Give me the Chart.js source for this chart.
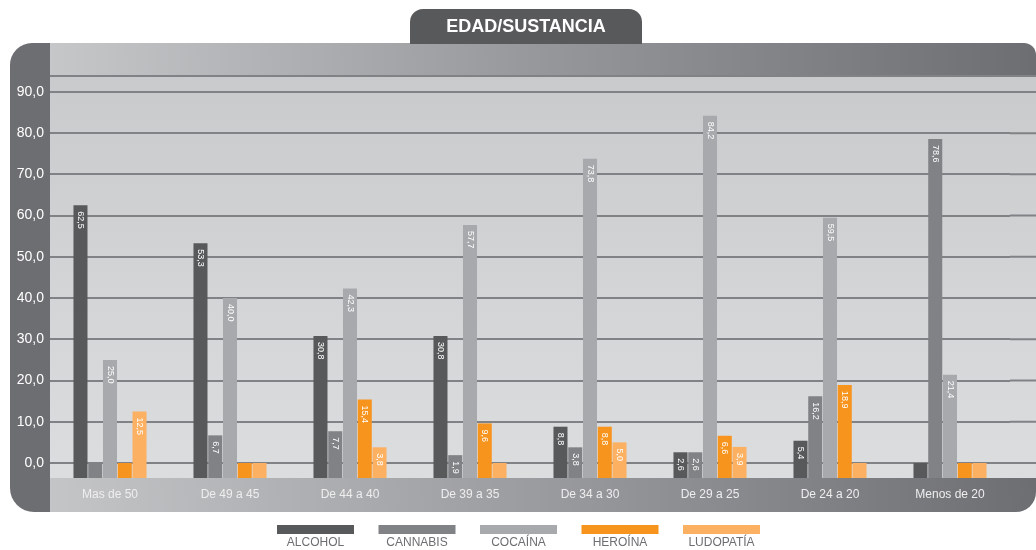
<!DOCTYPE html>
<html>
<head>
<meta charset="utf-8">
<script src="https://cdn.jsdelivr.net/npm/chart.js@4/dist/chart.umd.min.js"></script>
<style>
  html, body { margin: 0; padding: 0; background: #fff; }
  #wrap { width: 1036px; height: 550px; }
</style>
</head>
<body>
<div id="wrap"><canvas id="chart" width="1036" height="550"></canvas></div>
<script>
const categories = ['Mas de 50', 'De 49 a 45', 'De 44 a 40', 'De 39 a 35', 'De 34 a 30', 'De 29 a 25', 'De 24 a 20', 'Menos de 20'];
const alcohol   = [62.5, 53.3, 30.8, 30.8, 8.8, 2.6, 5.4, 0];
const cannabis  = [0, 6.7, 7.7, 1.9, 3.8, 2.6, 16.2, 78.6];
const cocaina   = [25.0, 40.0, 42.3, 57.7, 73.8, 84.2, 59.5, 21.4];
const heroina   = [0, 0, 15.4, 9.6, 8.8, 6.6, 18.9, 0];
const ludopatia = [12.5, 0, 3.8, 0, 5.0, 3.9, 0, 0];
const yTicks = [0, 10, 20, 30, 40, 50, 60, 70, 80, 90];

const FONT = "'Liberation Sans', Arial, Helvetica, sans-serif";
const fmt = v => v.toFixed(1).replace('.', ',');

const Y_MIN = -3.64;
const Y_MAX = 94.1;

// bands, background and title tab behind the chart
const frame = {
  id: 'frame',
  beforeDraw(chart) {
    const { ctx, chartArea: a, width } = chart;
    ctx.save();

    // left band with the tick labels
    ctx.fillStyle = '#6d6e71';
    ctx.beginPath();
    ctx.roundRect(10, 43, a.left - 10 + 1, 512 - 43, [22, 0, 0, 24]);
    ctx.fill();

    // top band
    let g = ctx.createLinearGradient(a.left, a.top, width, 43);
    g.addColorStop(0, '#c6c7c9');
    g.addColorStop(0.5, '#96979a');
    g.addColorStop(1, '#6d6e71');
    ctx.fillStyle = g;
    ctx.beginPath();
    ctx.roundRect(a.left, 43, width - a.left, a.top - 43, [0, 12, 0, 0]);
    ctx.fill();

    // plot background
    g = ctx.createLinearGradient(0, a.top, 0, a.bottom);
    g.addColorStop(0, '#c9cacc');
    g.addColorStop(1, '#dcdddf');
    ctx.fillStyle = g;
    ctx.fillRect(a.left, a.top, width - a.left, a.bottom - a.top);

    // bottom band with the category labels
    g = ctx.createLinearGradient(a.left, 512, width, a.bottom);
    g.addColorStop(0, '#c4c5c7');
    g.addColorStop(0.5, '#9a9b9e');
    g.addColorStop(1, '#6d6e71');
    ctx.fillStyle = g;
    ctx.beginPath();
    ctx.roundRect(a.left, a.bottom, width - a.left, 512 - a.bottom, [0, 0, 20, 0]);
    ctx.fill();

    // title tab
    ctx.fillStyle = '#58595b';
    ctx.beginPath();
    ctx.roundRect(410, 9, 232, 35, [13, 13, 0, 0]);
    ctx.fill();
    ctx.fillStyle = '#ffffff';
    ctx.font = 'bold 18px ' + FONT;
    ctx.textAlign = 'center';
    ctx.textBaseline = 'middle';
    ctx.fillText('EDAD/SUSTANCIA', 526, 27);

    ctx.restore();
  },
  beforeDatasetsDraw(chart) {
    // carry grid lines on to the right edge, plus the top rule
    const { ctx, chartArea: a, width, scales } = chart;
    ctx.save();
    ctx.strokeStyle = '#808285';
    ctx.lineWidth = 2;
    ctx.beginPath();
    yTicks.forEach(v => {
      const y = scales.y.getPixelForValue(v);
      ctx.moveTo(a.right, y);
      ctx.lineTo(width, y);
    });
    ctx.moveTo(a.left, a.top + 1);
    ctx.lineTo(width, a.top + 1);
    ctx.stroke();
    ctx.restore();
  }
};

// rotated value labels inside bars
const barLabels = {
  id: 'barLabels',
  afterDatasetsDraw(chart) {
    const { ctx } = chart;
    ctx.save();
    ctx.font = '9px ' + FONT;
    ctx.fillStyle = '#ffffff';
    ctx.textAlign = 'left';
    ctx.textBaseline = 'middle';
    chart.data.datasets.forEach((ds, i) => {
      chart.getDatasetMeta(i).data.forEach((bar, j) => {
        const v = ds.data[j];
        if (!v) return;
        ctx.save();
        ctx.translate(bar.x, bar.y + 6);
        ctx.rotate(Math.PI / 2);
        ctx.fillText(fmt(v), 0, 0);
        ctx.restore();
      });
    });
    ctx.restore();
  }
};

// legend: swatch with label underneath
const legendBelow = {
  id: 'legendBelow',
  afterDraw(chart) {
    const { ctx } = chart;
    ctx.save();
    ctx.font = '12px ' + FONT;
    ctx.textAlign = 'center';
    ctx.textBaseline = 'middle';
    chart.data.datasets.forEach((ds, i) => {
      const x = 277 + i * 101.5;
      ctx.fillStyle = ds.backgroundColor;
      ctx.fillRect(x, 525, 77, 9);
      ctx.fillStyle = '#6d6e71';
      ctx.fillText(ds.label, x + 38.5, 543);
    });
    ctx.restore();
  }
};

const mkSet = (label, data, color) => ({
  label, data,
  backgroundColor: color,
  base: Y_MIN,
  categoryPercentage: 0.615,
  barPercentage: 0.95
});

new Chart(document.getElementById('chart'), {
  type: 'bar',
  data: {
    labels: categories,
    datasets: [
      mkSet('ALCOHOL', alcohol, '#58595b'),
      mkSet('CANNABIS', cannabis, '#808285'),
      mkSet('COCAÍNA', cocaina, '#a7a9ac'),
      mkSet('HEROÍNA', heroina, '#f7941d'),
      mkSet('LUDOPATÍA', ludopatia, '#fbb062')
    ]
  },
  options: {
    responsive: false,
    animation: false,
    layout: { padding: { top: 75, bottom: 38, left: 0, right: 26 } },
    plugins: {
      legend: { display: false },
      tooltip: { enabled: false }
    },
    scales: {
      x: {
        grid: { display: false, drawTicks: false },
        border: { display: false },
        ticks: { color: '#eeeeef', font: { size: 12, family: FONT }, padding: 9 },
        afterFit(s) { s.height = 34; }
      },
      y: {
        min: Y_MIN,
        max: Y_MAX,
        afterBuildTicks(s) { s.ticks = yTicks.map(v => ({ value: v })); },
        grid: { color: '#808285', lineWidth: 2, drawTicks: false },
        border: { display: false },
        ticks: {
          color: '#ffffff',
          font: { size: 14, family: FONT },
          padding: 6,
          callback: v => fmt(v)
        },
        afterFit(s) { s.width = 50; }
      }
    }
  },
  plugins: [frame, barLabels, legendBelow]
});
</script>
</body>
</html>
